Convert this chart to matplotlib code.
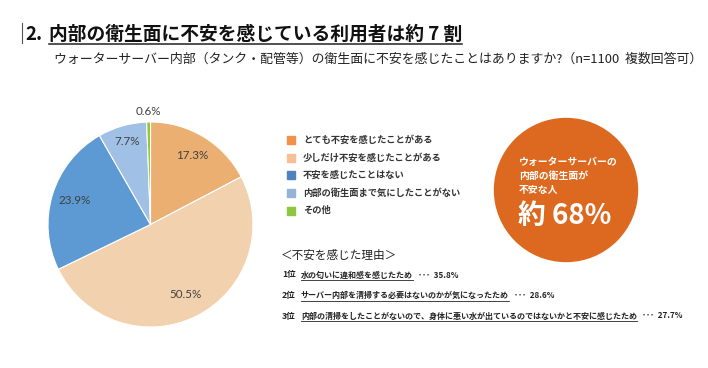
import numpy as np
import matplotlib.pyplot as plt
from matplotlib.patches import Circle, Rectangle

plt.rcParams['font.family'] = ['Noto Sans CJK JP', 'DejaVu Sans']

# ---- data ----
categories = [
    'とても不安を感じたことがある',
    '少しだけ不安を感じたことがある',
    '不安を感じたことはない',
    '内部の衛生面まで気にしたことがない',
    'その他',
]
shares = [17.3, 50.5, 23.9, 7.7, 0.6]

reasons = [
    '水の匂いに違和感を感じたため',
    'サーバー内部を清掃する必要はないのかが気になったため',
    '内部の清掃をしたことがないので、身体に悪い水が出ているのではないかと不安に感じたため',
]
reason_pcts = [35.8, 28.6, 27.7]

title = '内部の衛生面に不安を感じている利用者は約 7 割'
subtitle = 'ウォーターサーバー内部（タンク・配管等）の衛生面に不安を感じたことはありますか?（n=1100  複数回答可）'

# ---- style ----
pie_colors = ['#ebb071', '#f2d2ae', '#5d9ad3', '#a0c1e5', '#8cc63f']
legend_colors = ['#f3914a', '#f9bf95', '#4f81bd', '#95b3d7', '#8dc63f']
label_dist = [0.79, 0.76, 0.78, 0.84, 1.10]

W, H = 708, 368
fig = plt.figure(figsize=(W / 100, H / 100), dpi=100)

# overlay axes in pixel coords
ov = fig.add_axes([0, 0, 1, 1])
ov.set_xlim(0, W)
ov.set_ylim(H, 0)
ov.axis('off')

# pie axes
cx, cy, r = 150.5, 224.5, 102.5
pax = fig.add_axes([(cx - r) / W, (H - cy - r) / H, 2 * r / W, 2 * r / H])
wedges, _ = pax.pie(shares, colors=pie_colors, startangle=90, counterclock=False,
                    wedgeprops=dict(edgecolor='white', linewidth=0.8))
pax.set_xlim(-1, 1)
pax.set_ylim(-1, 1)
pax.set_aspect('equal')
pax.axis('off')
for w, v, d in zip(wedges, shares, label_dist):
    ang = np.deg2rad((w.theta1 + w.theta2) / 2)
    pax.text(d * np.cos(ang), d * np.sin(ang), f'{v}%', ha='center', va='center',
             fontsize=8.4, color='#404040', family=['Lato', 'DejaVu Sans'])

# title block
ov.plot([22, 22], [23, 43], color='#555555', lw=0.8)
ov.text(25, 34, '2.', fontsize=13.5, fontweight='bold', va='center', color='#111111')
t_title = ov.text(49, 34, title, fontsize=13.5, fontweight='bold', va='center', color='#111111')
ov.text(54, 59, subtitle, fontsize=9.3, va='center', color='#222222')

# legend
for i, (lab, c) in enumerate(zip(categories, legend_colors)):
    y = 140 + i * 17.7
    ov.add_patch(Rectangle((287, y - 4), 8, 8, color=c))
    ov.text(303, y, lab, fontsize=6.7, fontweight='bold', va='center', color='#333333')

# orange circle
ov.add_patch(Circle((566, 190), 71.5, color='#dc691f'))
for i, line in enumerate(['ウォーターサーバーの', '内部の衛生面が', '不安な人']):
    ov.text(519, 162 + i * 14, line, fontsize=7.1, fontweight='bold', color='white', va='center')
ov.text(518, 216, '約 68%', fontsize=20, fontweight='bold', color='white', va='center')

# reasons
ov.text(281, 255, '＜不安を感じた理由＞', fontsize=8.4, va='center', color='#222222')
reason_texts = []
for i, (txt, p) in enumerate(zip(reasons, reason_pcts)):
    y = 275 + i * 20.5
    ov.text(282, y, f'{i + 1}位', fontsize=6.2, fontweight='bold', va='center', color='#222222')
    reason_texts.append((ov.text(301, y, txt, fontsize=5.8, fontweight='bold', va='center',
                                 color='#222222'), p, y))

# underlines using rendered extents
fig.canvas.draw()
inv = ov.transData.inverted()


def underline(t, y, lw=0.8):
    bb = t.get_window_extent()
    (x0, _), (x1, _) = inv.transform([[bb.x0, bb.y0], [bb.x1, bb.y0]])
    ov.plot([x0, x1], [y, y], color='#222222', lw=lw)
    return x1


underline(t_title, 44, lw=1.1)
for t, p, y in reason_texts:
    x1 = underline(t, y + 5, lw=0.6)
    ov.text(x1 + 5, y, f'･･･  {p}%', fontsize=5.8, fontweight='bold', va='center', color='#222222')

fig.savefig('out.png', dpi=100)
